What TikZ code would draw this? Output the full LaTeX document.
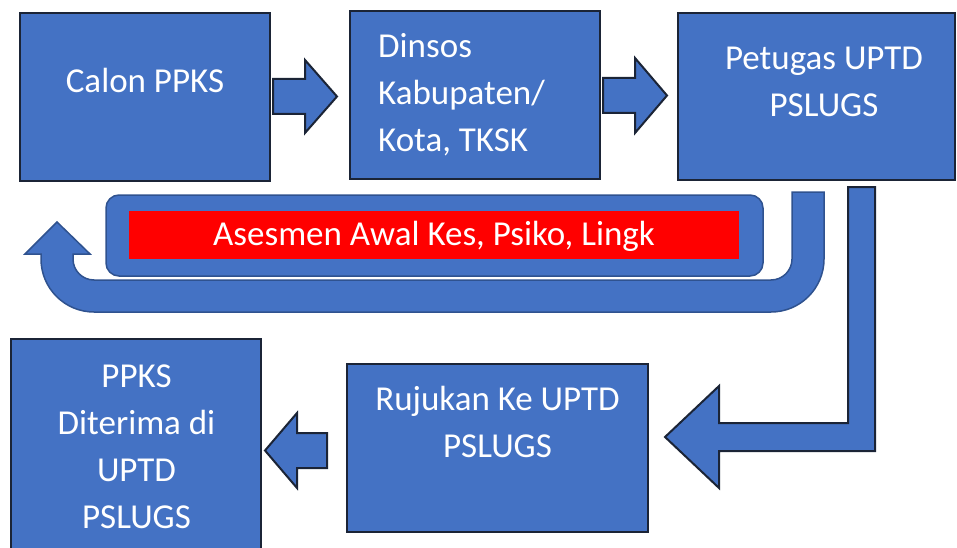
\documentclass[tikz,border=0pt]{standalone}
\usepackage{fontspec}
\setmainfont{Carlito}
\definecolor{obl}{HTML}{4472C4}
\definecolor{edgec}{HTML}{1B2436}
\definecolor{thinedge}{HTML}{2F528F}
\definecolor{redfill}{HTML}{FF0000}
\newcommand\mlcenter[1]{\parbox[t]{320pt}{\centering #1}}
\newcommand\mlleft[1]{\parbox[t]{230pt}{\raggedright #1}}
\begin{document}
\begin{tikzpicture}[x=1pt,y=1pt,
  boxstyle/.style={draw=edgec, line width=2.5pt, fill=obl, inner sep=0pt},
  blockarrow/.style={draw=edgec, line width=2pt, fill=obl, line join=miter},
  curvearrow/.style={draw=thinedge, line width=1.5pt, fill=obl, line join=miter},
  lbl/.style={text=white, font=\fontsize{35}{47}\selectfont, inner sep=0pt}]
\useasboundingbox (0,0) rectangle (957,-548);
\clip (0,0) rectangle (957,-548);

% boxes
\node[boxstyle, minimum width=250pt, minimum height=168pt] (calon) at (145,-97) {};
\node[boxstyle, minimum width=250pt, minimum height=168pt] (dinsos) at (475,-95) {};
\node[boxstyle, minimum width=277pt, minimum height=167pt] (petugas) at (816.5,-96.5) {};
\node[boxstyle, minimum width=301pt, minimum height=168pt] (rujukan) at (497.5,-448) {};
\node[boxstyle, minimum width=250pt, minimum height=232pt] (diterima) at (136,-455) {};

% block arrows
\draw[blockarrow] (273,-79) -- (305,-79) -- (305,-60) -- (337,-96.5) -- (305,-133) -- (305,-114) -- (273,-114) -- cycle;
\draw[blockarrow] (603,-78) -- (635,-78) -- (635,-58) -- (667,-95.5) -- (635,-133) -- (635,-113) -- (603,-113) -- cycle;
\draw[blockarrow] (327,-433) -- (297,-433) -- (297,-413) -- (265,-450.5) -- (297,-488) -- (297,-468) -- (327,-468) -- cycle;

% bent arrow down from Petugas to Rujukan
\draw[blockarrow] (848,-187) -- (875,-187) -- (875,-451) -- (719,-451) -- (719,-488) -- (665,-437) -- (719,-386) -- (719,-423) -- (848,-423) -- cycle;

% U-turn arrow back to Calon PPKS
\draw[curvearrow] (792,-192) -- (824,-192) -- (824,-259)
  arc[start angle=0, end angle=-90, radius=53] -- (94,-312)
  arc[start angle=-90, end angle=-180, radius=53] -- (41,-254)
  -- (25,-254) -- (57,-222) -- (90,-254) -- (73,-254) -- (73,-259)
  arc[start angle=180, end angle=270, radius=21] -- (771,-280)
  arc[start angle=270, end angle=360, radius=21] -- cycle;

% assessment panel
\node[draw=thinedge, line width=1.5pt, fill=obl, rounded corners=13pt, minimum width=657pt, minimum height=81pt, inner sep=0pt] (panel) at (434.5,-235.5) {};
\node[fill=redfill, minimum width=610pt, minimum height=48pt, inner sep=0pt] (redbar) at (434,-235) {};

% labels
\node[lbl, anchor=base] (tcalon) at (145,-93) {Calon PPKS};
\node[lbl, anchor=base west] (tdinsos) at (378,-58) {\mlleft{Dinsos\\Kabupaten/\\Kota, TKSK}};
\node[lbl, anchor=base] (tpetugas) at (824,-70) {\mlcenter{Petugas UPTD\\PSLUGS}};
\node[lbl, anchor=base] (trujukan) at (497.5,-410) {\mlcenter{Rujukan Ke UPTD\\PSLUGS}};
\node[lbl, anchor=base] (tditerima) at (136.5,-387) {\mlcenter{PPKS\\Diterima di\\UPTD\\PSLUGS}};
\node[lbl, anchor=base] (tasesmen) at (434,-245) {Asesmen Awal Kes, Psiko, Lingk};
\end{tikzpicture}
\end{document}
